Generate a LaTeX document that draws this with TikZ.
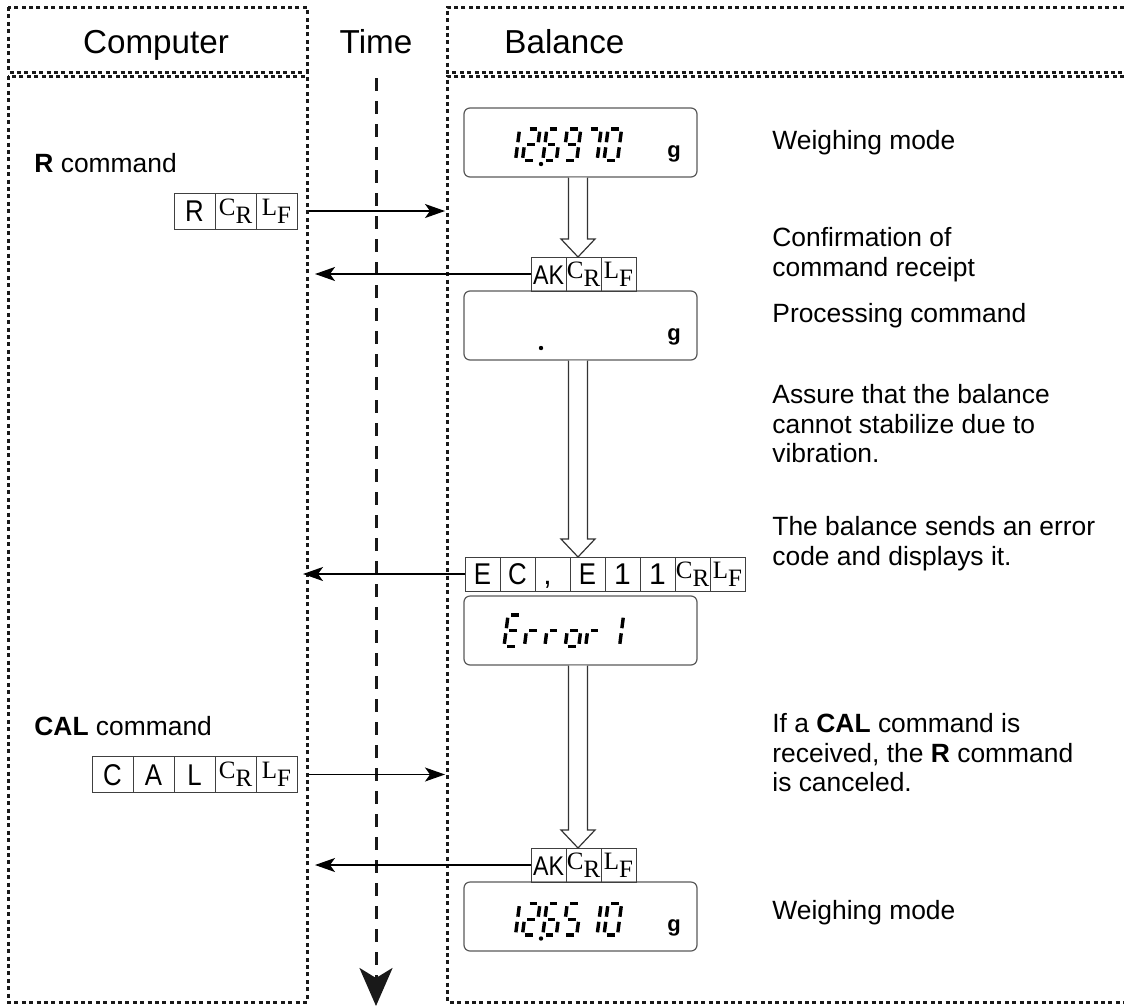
\documentclass[tikz,border=0pt]{standalone}
\usepackage{fontspec}
\usepackage{graphicx}
\setmainfont{Liberation Sans}
\newfontfamily\crlffont{Liberation Serif}
\usepackage{tikz}
\usetikzlibrary{arrows.meta,positioning,calc}

\newcommand\notefont{\fontsize{13.2}{14.75}\selectfont}
\newcommand\cnd[1]{\scalebox{0.86}[1]{#1}}
\newcommand\crs{{\fontsize{12.5}{12.5}\crlffont C\raisebox{-4pt}{R}}}
\newcommand\lfs{{\fontsize{12.5}{12.5}\crlffont L\raisebox{-4pt}{F}}}
% seven segment pieces (local units, y up)
\newcommand\sega{(3,31.5) -- (10.5,31.5)}
\newcommand\segb{(13.5,28.8) -- (13.5,18.3)}
\newcommand\segc{(13.5,13.2) -- (13.5,2.7)}
\newcommand\segd{(3,0) -- (10.5,0)}
\newcommand\sege{(0,13.2) -- (0,2.7)}
\newcommand\segf{(0,28.8) -- (0,18.3)}
\newcommand\segg{(3,15.75) -- (10.5,15.75)}
\newcommand\lcdchar[3]{%
  \begin{scope}[shift={(#1,#2)},x=0.5pt,y=0.5pt,xslant=0.13]
    \edef\lcdsegs{#3}%
    \foreach \s in \lcdsegs {\draw[lcdseg] \csname seg\s\endcsname;}
  \end{scope}}

\begin{document}
\begin{tikzpicture}[x=0.5pt,y=-0.5pt,
  panel/.style={draw=black!90,line width=1.5pt,dash pattern=on 2pt off 1.7pt},
  timeline/.style={black!90,line width=1.5pt,dash pattern=on 6.5pt off 5pt,
                   -{Stealth[length=19pt,width=16.5pt,inset=5pt]}},
  header/.style={font=\fontsize{16.6}{19}\selectfont,anchor=base,inner sep=0pt},
  note/.style={font=\notefont,align=left,anchor=north west,inner sep=0pt},
  lcd/.style={draw=black!65,line width=0.6pt,rounded corners=3pt,
              minimum width=116.5pt,minimum height=34.5pt,inner sep=0pt},
  lcdseg/.style={line width=1.7pt,line cap=butt},
  gunit/.style={font=\fontsize{11}{11}\selectfont\bfseries,anchor=base,inner sep=0pt},
  cmdcell/.style={draw=black!75,line width=0.5pt,inner sep=0pt,outer sep=0pt,
                  minimum width=20.5pt,minimum height=18pt,font=\fontsize{15}{15}\selectfont},
  ackcell/.style={cmdcell,minimum width=17.5pt,minimum height=17pt},
  sanscell/.style={text height=10.7pt,text depth=0pt},
  msg/.style={line width=0.65pt,-{Stealth[length=10pt,width=7pt,inset=2.5pt]}},
  hollow/.style={draw=black!80,line width=0.6pt,fill=white}
]
  \useasboundingbox (0,0) rectangle (1124,1007);

  % Panels
  \draw[panel] (8,7) rectangle (307,72);
  \draw[panel] (8,76) rectangle (307,1002);
  \draw[panel] (1124,7) -- (447,7) -- (447,72) -- (1124,72);
  \draw[panel] (1124,76) -- (447,76) -- (447,1002) -- (1124,1002);

  \node[header] (comp) at (156,53) {Computer};
  \node[header] (time) at (376,53) {Time};
  \node[header,anchor=base west] (bal) at (504,53) {Balance};

  % Time axis
  \coordinate (tstart) at (376,78);
  \coordinate (tend) at (376,1006);
  \draw[timeline] (tstart) -- (tend);

  % Balance displays
  \node[lcd] (disp1) at (580.5,142.5) {};
  \node[lcd] (disp2) at (580.5,325.5) {};
  \node[lcd] (disp3) at (580.5,630.5) {};
  \node[lcd] (disp4) at (580.5,916.5) {};

  \foreach \segs [count=\i from 0] in {{b,c},{a,b,g,e,d},{a,f,g,e,d,c},{a,b,c,d,f,g},{a,b,c},{a,b,c,d,e,f}}
    {\lcdchar{502+20.4*\i}{160.5}{\segs}}
  \foreach \segs [count=\i from 0] in {{a,f,g,e,d},{e,g},{e,g},{c,d,e,g},{e,g},{b,c}}
    {\lcdchar{504+20.4*\i}{646.5}{\segs}}
  \foreach \segs [count=\i from 0] in {{b,c},{a,b,g,e,d},{a,f,g,e,d,c},{a,f,g,c,d},{b,c},{a,b,c,d,e,f}}
    {\lcdchar{502+20.4*\i}{935}{\segs}}
  \fill (541,164) circle (1.1pt);
  \fill (541,348) circle (1.1pt);
  \fill (541,938.5) circle (1.1pt);

  \node[gunit] (g1) at (674,157.5) {g};
  \node[gunit] (g2) at (674,340.5) {g};
  \node[gunit] (g4) at (674,931) {g};

  % Command strings
  \node[cmdcell,sanscell] (rc1) at (194.5,211) {\cnd{R}};
  \node[cmdcell,right=0pt of rc1] (rc2) {\crs};
  \node[cmdcell,right=0pt of rc2] (rc3) {\lfs};

  \node[cmdcell,sanscell] (cal1) at (112.5,774.5) {\cnd{C}};
  \node[cmdcell,sanscell,right=0pt of cal1] (cal2) {\cnd{A}};
  \node[cmdcell,sanscell,right=0pt of cal2] (cal3) {\cnd{L}};
  \node[cmdcell,right=0pt of cal3] (cal4) {\crs};
  \node[cmdcell,right=0pt of cal4] (cal5) {\lfs};

  % Replies
  \node[ackcell,sanscell,font=\fontsize{13.5}{13.5}\selectfont] (ak1) at (548.5,274) {\cnd{AK}};
  \node[ackcell,right=0pt of ak1] (ak1cr) {\crs};
  \node[ackcell,right=0pt of ak1cr] (ak1lf) {\lfs};

  \node[ackcell,sanscell] (ec1) at (482.5,574) {\cnd{E}};
  \node[ackcell,sanscell,right=0pt of ec1] (ec2) {\cnd{C}};
  \node[ackcell,sanscell,right=0pt of ec2] (ec3) {,\kern5pt};
  \node[ackcell,sanscell,right=0pt of ec3] (ec4) {\cnd{E}};
  \node[ackcell,sanscell,right=0pt of ec4] (ec5) {1};
  \node[ackcell,sanscell,right=0pt of ec5] (ec6) {1};
  \node[ackcell,right=0pt of ec6] (ec7) {\crs};
  \node[ackcell,right=0pt of ec7] (ec8) {\lfs};

  \node[ackcell,sanscell,font=\fontsize{13.5}{13.5}\selectfont] (ak2) at (548.5,865) {\cnd{AK}};
  \node[ackcell,right=0pt of ak2] (ak2cr) {\crs};
  \node[ackcell,right=0pt of ak2cr] (ak2lf) {\lfs};

  % Hollow flow arrows
  \foreach \a/\b in {disp1/ak1cr,disp2/ec4,disp3/ak2cr}{
    \draw[hollow] let \p1=($(\a.south)+(-2.5,0)$), \p2=(\b.north) in
      (\x1-4.75pt,\y1) -- (\x1-4.75pt,\y2+9pt) -- (\x1-8.5pt,\y2+9pt) -- (\x1,\y2)
      -- (\x1+8.5pt,\y2+9pt) -- (\x1+4.75pt,\y2+9pt) -- (\x1+4.75pt,\y1);
  }

  % Messages
  \coordinate (rin) at (445,211);
  \coordinate (akout1) at (315,274);
  \coordinate (ecout) at (303,574);
  \coordinate (calin) at (445,774.5);
  \coordinate (akout2) at (315,865);
  \draw[msg,shorten <=6pt] (rc3.east) -- (rin);
  \draw[msg] (ak1.west) -- (akout1);
  \draw[msg] (ec1.west) -- (ecout);
  \draw[msg,shorten <=6pt] (cal5.east) -- (calin);
  \draw[msg] (ak2.west) -- (akout2);

  % Notes
  \node[note] (rlabel) at (34,153) {\textbf{R} command};
  \node[note] (callabel) at (34,716) {\textbf{CAL} command};
  \node[note] (w1) at (772,130) {Weighing mode};
  \node[note] (conf) at (772,227) {Confirmation of\\command receipt};
  \node[note] (proc) at (772,303) {Processing command};
  \node[note] (assure) at (772,384) {Assure that the balance\\cannot stabilize due to\\vibration.};
  \node[note] (errnote) at (772,516) {The balance sends an error\\code and displays it.};
  \node[note] (calnote) at (772,713) {If a \textbf{CAL} command is\\received, the \textbf{R} command\\is canceled.};
  \node[note] (w2) at (772,900) {Weighing mode};
\end{tikzpicture}
\end{document}
